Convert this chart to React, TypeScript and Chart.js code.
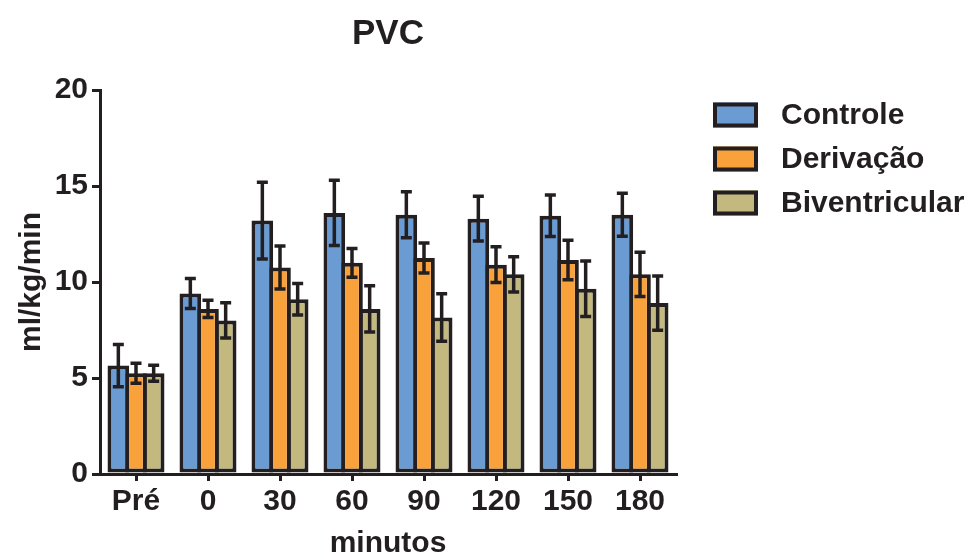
import React, { useEffect, useRef } from "react";
import { Chart, registerables } from "chart.js";

Chart.register(...registerables);

const categories = ["Pré", "0", "30", "60", "90", "120", "150", "180"];
const seriesNames = ["Controle", "Derivação", "Biventricular"];
const controle = [5.65, 9.4, 13.2, 13.6, 13.5, 13.3, 13.45, 13.5];
const derivacao = [5.25, 8.6, 10.75, 11.0, 11.25, 10.9, 11.15, 10.4];
const biventricular = [5.25, 8.0, 9.1, 8.6, 8.15, 10.4, 9.65, 8.9];
const controleErr = [1.1, 0.78, 2.0, 1.7, 1.2, 1.17, 1.08, 1.12];
const derivacaoErr = [0.52, 0.45, 1.12, 0.75, 0.78, 0.93, 1.03, 1.15];
const biventricularErr = [0.42, 0.92, 0.82, 1.2, 1.24, 0.92, 1.45, 1.41];
const yTicks = [0, 5, 10, 15, 20];

const DARK = "#231f20";
const FONT = "'Liberation Sans', Arial, sans-serif";
const colors = ["#6a9bd2", "#f9a23c", "#c3b87e"];

const errorBarPlugin = {
  id: "errorBars",
  afterDatasetsDraw(chart: any) {
    const ctx = chart.ctx;
    const y = chart.scales.y;
    ctx.save();
    ctx.strokeStyle = DARK;
    ctx.lineWidth = 3.5;
    ctx.lineCap = "butt";
    chart.data.datasets.forEach((ds: any, i: number) => {
      const meta = chart.getDatasetMeta(i);
      meta.data.forEach((bar: any, j: number) => {
        const v = ds.data[j];
        const e = ds.errors[j];
        const yt = y.getPixelForValue(v + e);
        const yb = y.getPixelForValue(v - e);
        const x = bar.x;
        const cap = 5.5;
        ctx.beginPath();
        ctx.moveTo(x, yt);
        ctx.lineTo(x, yb);
        ctx.moveTo(x - cap, yt);
        ctx.lineTo(x + cap, yt);
        ctx.moveTo(x - cap, yb);
        ctx.lineTo(x + cap, yb);
        ctx.stroke();
      });
    });
    ctx.restore();
  },
};

const legendPlugin = {
  id: "sideLegend",
  afterDraw(chart: any) {
    const ctx = chart.ctx;
    const area = chart.chartArea;
    const x0 = area.right + 37;
    const boxW = 45;
    const boxH = 25;
    const bw = 4;
    ctx.save();
    ctx.font = `bold 30px ${FONT}`;
    ctx.textBaseline = "middle";
    ctx.textAlign = "left";
    chart.data.datasets.forEach((ds: any, i: number) => {
      const cy = area.top + 25 + i * 44;
      ctx.fillStyle = ds.backgroundColor;
      ctx.fillRect(x0, cy - boxH / 2, boxW, boxH);
      ctx.strokeStyle = DARK;
      ctx.lineWidth = bw;
      ctx.strokeRect(x0 + bw / 2, cy - boxH / 2 + bw / 2, boxW - bw, boxH - bw);
      ctx.fillStyle = DARK;
      ctx.fillText(ds.label, x0 + boxW + 23, cy + 1);
    });
    ctx.restore();
  },
};

export default function App() {
  const ref = useRef<HTMLCanvasElement | null>(null);

  useEffect(() => {
    document.body.style.margin = "0";
    if (!ref.current) return;
    const values = [controle, derivacao, biventricular];
    const errs = [controleErr, derivacaoErr, biventricularErr];
    const chart = new Chart(ref.current, {
      type: "bar",
      data: {
        labels: categories,
        datasets: seriesNames.map((name, i) => ({
          label: name,
          data: values[i],
          errors: errs[i],
          backgroundColor: colors[i],
          borderColor: DARK,
          borderWidth: 4,
          borderSkipped: false,
          categoryPercentage: 0.736,
          barPercentage: 1.226,
        })) as any,
      },
      options: {
        animation: false,
        responsive: false,
        devicePixelRatio: 1,
        layout: { padding: { left: 0, right: 298, top: 0, bottom: 0 } },
        plugins: {
          legend: { display: false },
          tooltip: { enabled: false },
          title: {
            display: true,
            fullSize: false,
            text: "PVC",
            color: DARK,
            font: { family: FONT, size: 35, weight: "bold" },
            padding: { top: 13, bottom: 35 },
          },
        },
        scales: {
          x: {
            offset: true,
            grid: {
              offset: false,
              drawOnChartArea: false,
              drawTicks: true,
              tickLength: 7,
              color: DARK,
              lineWidth: 3,
            },
            border: { display: true, color: DARK, width: 3 },
            ticks: {
              color: DARK,
              padding: 3,
              font: { family: FONT, size: 30, weight: "bold" },
            },
            title: {
              display: true,
              text: "minutos",
              color: DARK,
              font: { family: FONT, size: 30, weight: "bold" },
              padding: { top: 0, bottom: -2 },
            },
            afterFit(scale: any) {
              scale.height = 86;
            },
          },
          y: {
            min: 0,
            max: 20,
            afterBuildTicks(scale: any) {
              scale.ticks = yTicks.map((v) => ({ value: v }));
            },
            grid: {
              drawOnChartArea: false,
              drawTicks: true,
              tickLength: 8,
              color: DARK,
              lineWidth: 3,
            },
            border: { display: true, color: DARK, width: 3 },
            ticks: {
              color: DARK,
              padding: 4,
              font: { family: FONT, size: 30, weight: "bold" },
            },
            title: {
              display: true,
              text: "ml/kg/min",
              color: DARK,
              font: { family: FONT, size: 30, weight: "bold" },
              padding: { top: 14, bottom: 0 },
            },
            afterFit(scale: any) {
              scale.width = 100;
            },
          },
        },
      },
      plugins: [errorBarPlugin, legendPlugin],
    });
    return () => chart.destroy();
  }, []);

  return (
    <div style={{ width: 974, height: 560 }}>
      <canvas ref={ref} width={974} height={560} style={{ display: "block" }} />
    </div>
  );
}
